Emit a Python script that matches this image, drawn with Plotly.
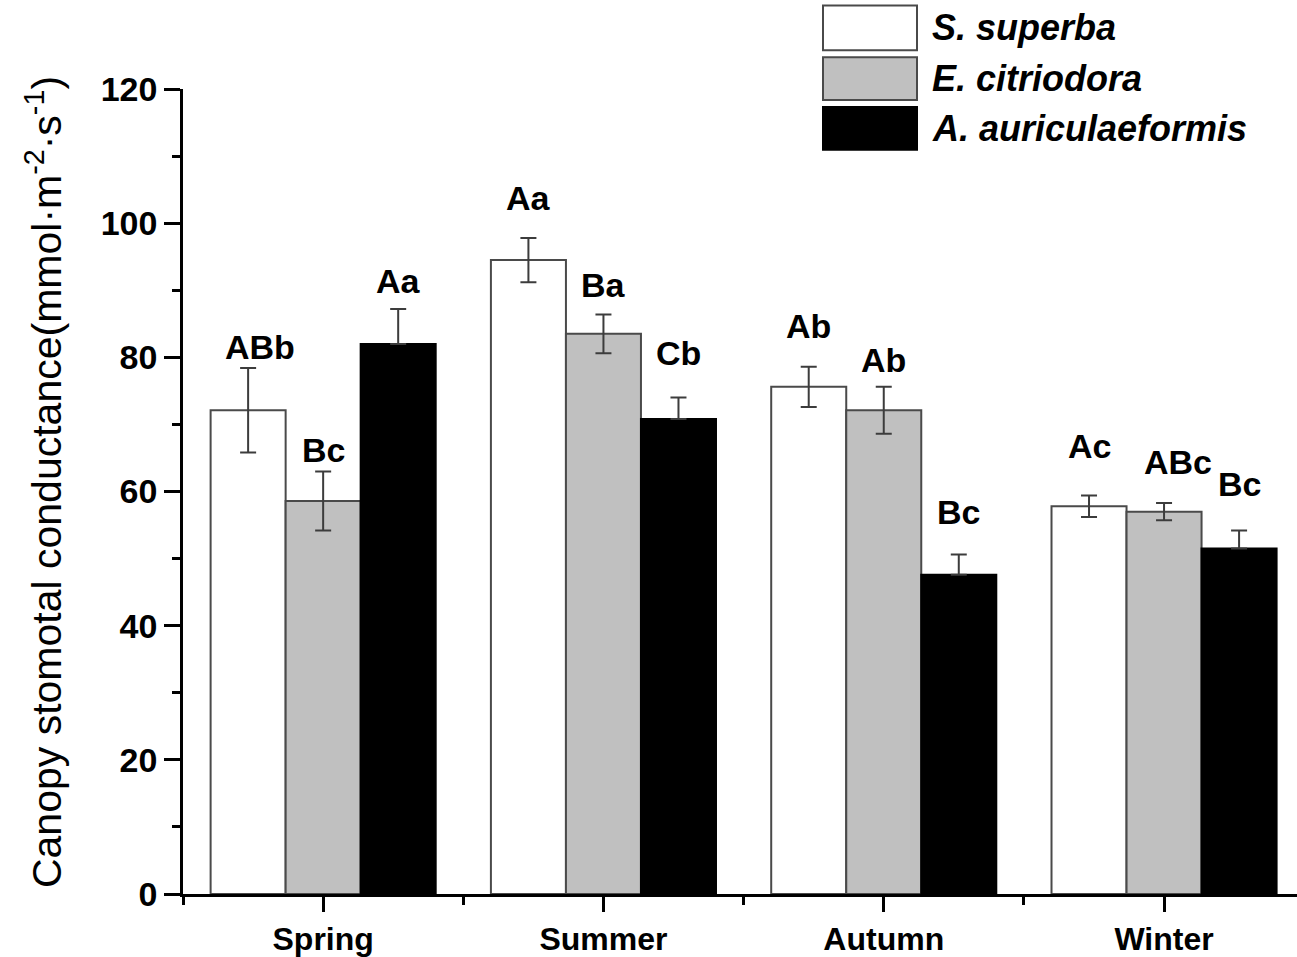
import plotly.graph_objects as go

# ---------------- data ----------------
seasons = ["Spring", "Summer", "Autumn", "Winter"]
species = ["S. superba", "E. citriodora", "A. auriculaeformis"]

s_superba = [72.1, 94.5, 75.6, 57.8]
e_citriodora = [58.6, 83.5, 72.1, 57.0]
a_auriculaeformis = [82.0, 70.8, 47.6, 51.5]

s_superba_err = [6.3, 3.3, 3.0, 1.6]
e_citriodora_err = [4.4, 2.9, 3.5, 1.3]
a_auriculaeformis_err = [5.2, 3.2, 3.0, 2.7]

s_superba_sig = ["ABb", "Aa", "Ab", "Ac"]
e_citriodora_sig = ["Bc", "Ba", "Ab", "ABc"]
a_auriculaeformis_sig = ["Aa", "Cb", "Bc", "Bc"]

y_ticks = [0, 20, 40, 60, 80, 100, 120]

# ---------------- styling / layout ----------------
W, H = 1297, 957
L, R, T, B = 183, 0, 89, 59
FONT = "Arial, Liberation Sans, sans-serif"
fills = ["#ffffff", "#c0c0c0", "#000000"]
edge = "#4a4a4a"
bargap = 0.197
xmin = -0.5
px_per_cat = 280.3
xmax = xmin + (W - L - R) / px_per_cat

# label placement tweaks (pixels): vertical gap above error bar, horizontal nudge
label_gap = [
    [8, 27, 28, 37],
    [8, 16, 14, 28],
    [15, 32, 30, 33],
]
label_dx = [
    [12, 0, 0, 0],
    [0, 0, 0, 14],
    [0, 0, 0, 0],
]

values = [s_superba, e_citriodora, a_auriculaeformis]
errors = [s_superba_err, e_citriodora_err, a_auriculaeformis_err]
sigs = [s_superba_sig, e_citriodora_sig, a_auriculaeformis_sig]

xs = list(range(len(seasons)))
fig = go.Figure()
for j, name in enumerate(species):
    minus = errors[j] if j < 2 else [0] * len(errors[j])
    fig.add_trace(go.Bar(
        x=xs, y=values[j], name=name,
        marker=dict(color=fills[j], line=dict(color=edge if j < 2 else "#000", width=2)),
        error_y=dict(type="data", array=errors[j], arrayminus=minus, symmetric=False,
                     color="#3c3c3c", thickness=2, width=8),
        showlegend=False,
    ))

bw = (1 - bargap) / 3
annotations = []
for j in range(3):
    for i in range(len(seasons)):
        annotations.append(dict(
            x=i + (j - 1) * bw, y=values[j][i] + errors[j][i],
            xref="x", yref="y", text=sigs[j][i], showarrow=False,
            xanchor="center", yanchor="bottom",
            yshift=label_gap[j][i] - 8, xshift=label_dx[j][i],
            font=dict(family=FONT, size=34, color="black", weight="bold"),
        ))

plot_w = W - L - R
plot_h = H - T - B

def px_x(px):
    return (px - L) / plot_w

def px_y(py):
    return (H - B - py) / plot_h

# y-axis title
annotations.append(dict(
    x=px_x(44), y=px_y(484), xref="paper", yref="paper",
    text="Canopy stomotal conductance(mmol·m<sup>-2</sup>·s<sup>-1</sup>)",
    textangle=-90, showarrow=False, xanchor="center", yanchor="middle",
    font=dict(family=FONT, size=41, color="black"),
))

# custom legend
shapes = []
boxes = [(5, 50), (57, 100), (107, 150)]
for j, name in enumerate(species):
    y0, y1 = boxes[j]
    shapes.append(dict(type="rect", xref="paper", yref="paper",
                       x0=px_x(823), x1=px_x(917), y0=px_y(y1), y1=px_y(y0),
                       fillcolor=fills[j], line=dict(color=edge if j < 2 else "#000", width=2)))
    annotations.append(dict(
        x=px_x(930), y=px_y((y0 + y1) / 2), xref="paper", yref="paper",
        text=name, showarrow=False, xanchor="left", yanchor="middle",
        font=dict(family=FONT, size=36, color="black", weight="bold", style="italic"),
    ))

fig.update_layout(
    width=W, height=H,
    margin=dict(l=L, r=R, t=T, b=B, pad=0),
    paper_bgcolor="white", plot_bgcolor="white",
    barmode="group", bargap=bargap, bargroupgap=0,
    annotations=annotations, shapes=shapes,
    font=dict(family=FONT, color="black"),
)
fig.update_xaxes(
    range=[xmin, xmax], tickmode="array", tickvals=xs, ticktext=seasons,
    ticks="outside", ticklen=15, tickwidth=2.5, tickcolor="black",
    showline=True, linecolor="black", linewidth=2.5,
    showgrid=False, zeroline=False,
    tickfont=dict(family=FONT, size=32, color="black", weight="bold"),
    minor=dict(tickmode="linear", tick0=-0.5, dtick=1, ticks="outside",
               ticklen=8, tickwidth=2.5, tickcolor="black", showgrid=False),
)
fig.update_yaxes(
    range=[0, 120], tickmode="array", tickvals=y_ticks,
    ticks="outside", ticklen=16, tickwidth=2.5, tickcolor="black",
    showline=True, linecolor="black", linewidth=2.5,
    showgrid=False, zeroline=False,
    tickfont=dict(family=FONT, size=34, color="black", weight="bold"),
    minor=dict(tickmode="linear", tick0=10, dtick=20, ticks="outside",
               ticklen=8, tickwidth=2.5, tickcolor="black", showgrid=False),
)

fig.write_html("out.html")
